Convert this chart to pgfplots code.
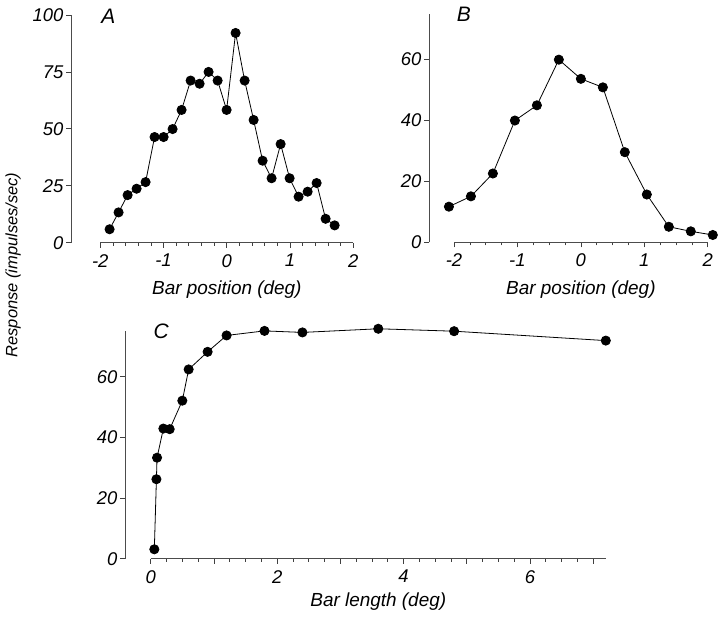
\documentclass[border=0pt]{standalone}
\usepackage{fontspec}
\setmainfont{Liberation Sans}
\usepackage{pgfplots}
\pgfplotsset{compat=1.18}
\pgfplotsset{
  myaxis/.style={
    scale only axis,
    anchor=south west,
    axis lines*=left,
    axis line style={draw=none},
    tick align=outside,
    major tick length=5bp,
    minor tick length=3bp,
    tick style={line width=0.7bp, color=black!75},
    ticklabel style={font=\fontsize{18.5}{20}\selectfont\itshape},
    xticklabel style={yshift=-3bp},
    yticklabel style={xshift=1bp},
    label style={font=\fontsize{19}{22}\selectfont\itshape},
    clip=false,
    scaled ticks=false,
  },
  dataline/.style={black, line width=0.8bp, mark=*, mark size=4.6bp, mark options={solid, fill=black, draw=black}},
}
\begin{document}
\begin{tikzpicture}[x=1bp,y=1bp]
\useasboundingbox (0,0) rectangle (720,618);

% Panel A
\begin{axis}[myaxis,
  at={(71bp,375.3bp)}, width=282.3bp, height=227.7bp,
  xmin=-2.463, xmax=2, ymin=0, ymax=100,
  xtick={-2,-1,0,1,2}, xticklabels={-2,-1,0,1,2},
  minor xtick={-1.8,-1.6,-1.4,-1.2,-0.8,-0.6,-0.4,-0.2,0.2,0.4,0.6,0.8,1.2,1.4,1.6,1.8},
  ytick={0,25,50,75,100}, yticklabels={0,25,50,75,100},
  xlabel={Bar position (deg)},
  xlabel style={at={(axis description cs:0.552,0)}, anchor=base, yshift=-52bp},
]
\draw[line width=0.7bp, black!70] (axis cs:-2,0) -- (axis cs:2,0);
\draw[line width=0.7bp, black!70] (rel axis cs:0,0) -- (rel axis cs:0,1);
\addplot[dataline] coordinates {
(-1.853,5.9) (-1.711,13.3) (-1.568,20.9) (-1.426,23.7) (-1.284,26.6)
(-1.142,46.4) (-0.999,46.4) (-0.857,49.9) (-0.715,58.3) (-0.572,71.2)
(-0.430,69.8) (-0.288,75.0) (-0.145,71.2) (-0.003,58.3) (0.139,92.1)
(0.282,71.2) (0.424,53.9) (0.566,36.0) (0.708,28.3) (0.851,43.3)
(0.993,28.3) (1.135,20.2) (1.278,22.4) (1.420,26.2) (1.562,10.5) (1.705,7.6)
};
\end{axis}

% Panel B
\begin{axis}[myaxis,
  at={(429bp,375.7bp)}, width=278.7bp, height=228.3bp,
  xmin=-2.394, xmax=2, ymin=0, ymax=75,
  xtick={-2,-1,0,1,2}, xticklabels={-2,-1,0,1,2},
  minor xtick={-1.75,-1.5,-1.25,-0.75,-0.5,-0.25,0.25,0.5,0.75,1.25,1.5,1.75},
  ytick={0,20,40,60}, yticklabels={0,20,40,60},
  xlabel={Bar position (deg)},
  xlabel style={at={(axis description cs:0.545,0)}, anchor=base, yshift=-52.5bp},
]
\draw[line width=0.7bp, black!70] (axis cs:-2,0) -- (axis cs:2,0);
\draw[line width=0.7bp, black!70] (rel axis cs:0,0) -- (rel axis cs:0,1);
\addplot[dataline] coordinates {
(-2.080,11.7) (-1.733,15.1) (-1.387,22.6) (-1.040,40.0) (-0.693,45.0)
(-0.347,60.0) (0.0,53.7) (0.347,50.9) (0.693,29.6) (1.040,15.7)
(1.387,5.1) (1.733,3.6) (2.080,2.4)
};
\end{axis}

% Panel C
\begin{axis}[myaxis,
  at={(125bp,59.3bp)}, width=480.8bp, height=227.5bp,
  xmin=-0.407, xmax=7.2, ymin=0, ymax=75,
  xtick={0,1,2,3,4,5,6,7}, xticklabels={0,,2,,4,,6,},
  minor xtick={0.25,0.5,0.75,1.25,1.5,1.75,2.25,2.5,2.75,3.25,3.5,3.75,4.25,4.5,4.75,5.25,5.5,5.75,6.25,6.5,6.75},
  ytick={0,20,40,60}, yticklabels={0,20,40,60},
  xlabel={Bar length (deg)},
  xlabel style={at={(axis description cs:0.5268,0)}, anchor=base, yshift=-48.3bp},
]
\draw[line width=0.7bp, black!70] (axis cs:0,0) -- (axis cs:7.2,0);
\draw[line width=0.7bp, black!70] (rel axis cs:0,0) -- (rel axis cs:0,1);
\addplot[dataline] coordinates {
(0.057,3.1) (0.09,26.2) (0.1,33.3) (0.2,42.9) (0.3,42.7) (0.5,52.1)
(0.6,62.4) (0.9,68.2) (1.2,73.6) (1.8,75.1) (2.4,74.6) (3.6,75.8)
(4.8,75.0) (7.2,71.9)
};
\end{axis}

% Panel letters and shared y label
\node[font=\fontsize{21}{24}\selectfont\itshape] at (108.3,602) {A};
\node[font=\fontsize{21}{24}\selectfont\itshape] at (463.8,603.8) {B};
\node[font=\fontsize{21}{24}\selectfont\itshape] at (161.3,286.3) {C};
\node[font=\fontsize{16.5}{19}\selectfont\itshape, rotate=90] at (13,353) {Response (impulses/sec)};
\end{tikzpicture}
\end{document}
